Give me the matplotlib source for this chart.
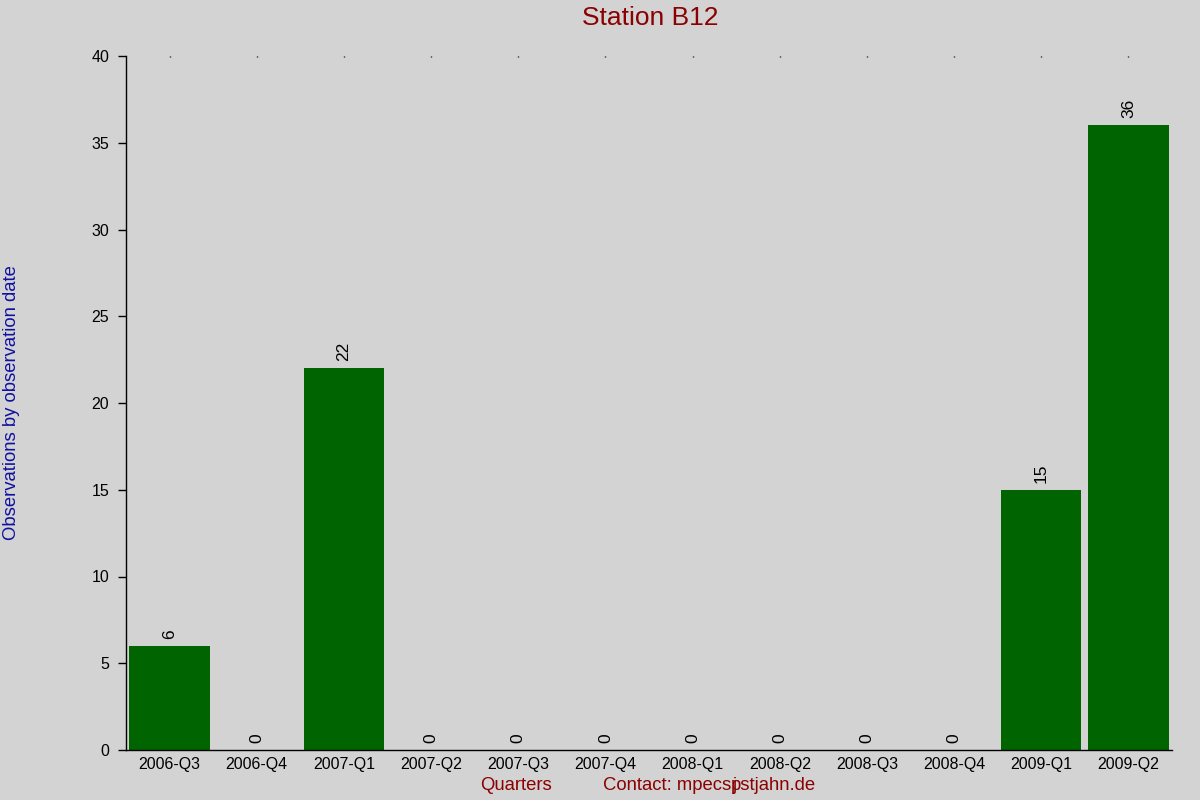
import matplotlib
matplotlib.use("Agg")
import matplotlib.pyplot as plt

quarters = ["2006-Q3", "2006-Q4", "2007-Q1", "2007-Q2", "2007-Q3", "2007-Q4",
            "2008-Q1", "2008-Q2", "2008-Q3", "2008-Q4", "2009-Q1", "2009-Q2"]
observations = [6, 0, 22, 0, 0, 0, 0, 0, 0, 0, 15, 36]
y_ticks = [0, 5, 10, 15, 20, 25, 30, 35, 40]

bg = "#d3d3d3"
red = "#8b0000"
blue = "#1010a0"

plt.rcParams['font.family'] = ['Liberation Sans', 'DejaVu Sans']

fig = plt.figure(figsize=(12, 8), dpi=100, facecolor=bg)
ax = fig.add_axes([126 / 1200, 50 / 800, 1046 / 1200, 694 / 800])
ax.set_facecolor(bg)

x = list(range(len(quarters)))
bars = ax.bar(x, observations, width=0.92, color="#006400")
for b, v in zip(bars, observations):
    ax.annotate(str(v), (b.get_x() + b.get_width() / 2, v), xytext=(0, 5),
                textcoords="offset points", ha="center", va="bottom",
                rotation=90, fontsize=12.5)

ax.set_xlim(-0.5, len(quarters) - 0.5)
ax.set_ylim(0, 40)
ax.set_xticks(x)
ax.set_xticklabels(quarters, fontsize=11.5)
ax.set_yticks(y_ticks)
ax.tick_params(axis='y', length=6, width=1, pad=6, labelsize=11.5)
ax.tick_params(axis='x', bottom=False, top=True, direction='in', length=1,
               width=1, pad=5)
ax.spines['top'].set_visible(False)
ax.spines['right'].set_visible(False)
ax.spines['left'].set_linewidth(1)
ax.spines['bottom'].set_linewidth(1)

fig.text(650 / 1200, 1 - 18 / 800, "Station B12", color=red, fontsize=19,
         ha="center", va="center")
fig.text(12 / 1200, 1 - 403 / 800, "Observations by observation date",
         color=blue, fontsize=13.3, rotation=90, ha="center", va="center")
fig.text(516 / 1200, 1 - 786 / 800, "Quarters", color=red, fontsize=13.3,
         ha="center", va="center")

# the contact address is drawn with an overlapping glyph in the original
renderer = fig.canvas.get_renderer()
t1 = fig.text(603 / 1200, 1 - 786 / 800, "Contact: mpecs", color=red,
              fontsize=13.3, ha="left", va="center")
x_end = t1.get_window_extent(renderer).x1 / 1200
fig.text(x_end, 1 - 786 / 800, "pstjahn.de", color=red, fontsize=13.3,
         ha="left", va="center")
fig.text(x_end + 1 / 1200, 1 - 786 / 800, "j", color=red, fontsize=13.3,
         ha="left", va="center")

fig.savefig("out.png", dpi=100, facecolor=bg)
